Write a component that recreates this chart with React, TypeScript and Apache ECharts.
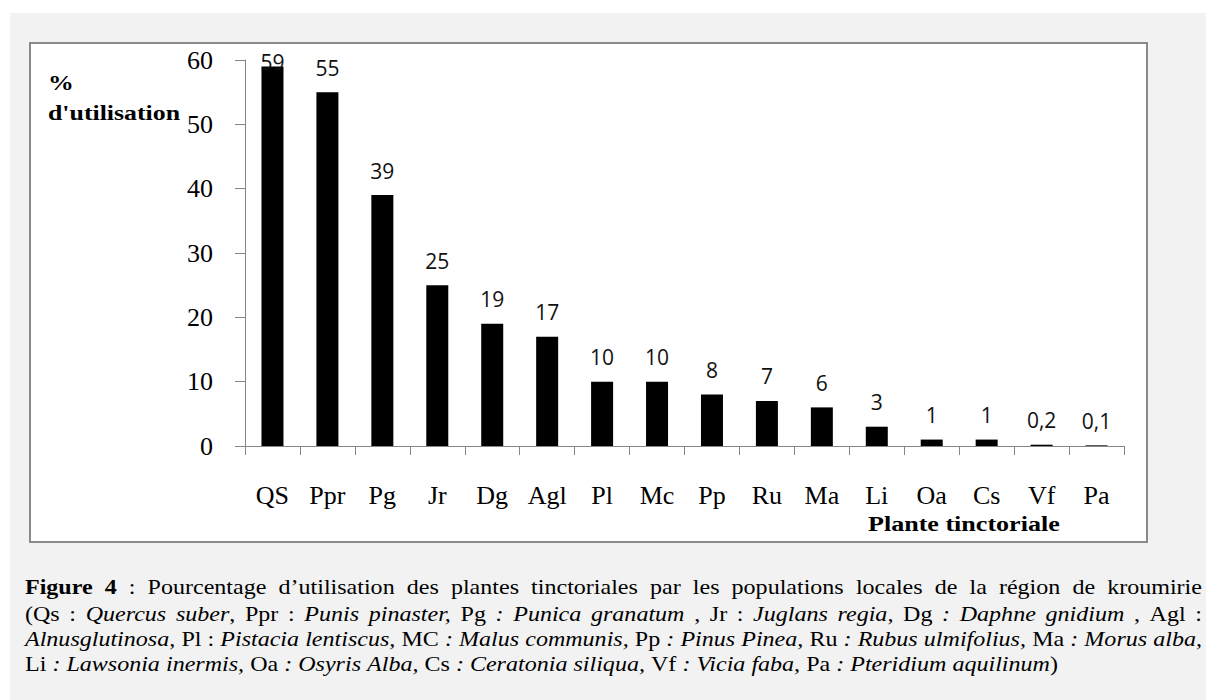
import React, { useEffect, useRef } from 'react';
import * as echarts from 'echarts';

const categories = ['QS', 'Ppr', 'Pg', 'Jr', 'Dg', 'Agl', 'Pl', 'Mc', 'Pp', 'Ru', 'Ma', 'Li', 'Oa', 'Cs', 'Vf', 'Pa'];
const values = [59, 55, 39, 25, 19, 17, 10, 10, 8, 7, 6, 3, 1, 1, 0.2, 0.1];
const yMin = 0;
const yMax = 60;
const yInterval = 10;
const yTitleLines = ['%', "d'utilisation"];
const xTitle = 'Plante tinctoriale';

// caption tokens: [text, style(n|b|i), joinToPrevious]
type Tok = [string, string, number?];
const captionLine1: Tok[] = [
  ['Figure', 'b'], ['4', 'b'], [':', 'n'], ['Pourcentage', 'n'], ['d\u2019utilisation', 'n'], ['des', 'n'], ['plantes', 'n'],
  ['tinctoriales', 'n'], ['par', 'n'], ['les', 'n'], ['populations', 'n'], ['locales', 'n'], ['de', 'n'], ['la', 'n'],
  ['région', 'n'], ['de', 'n'], ['kroumirie', 'n'],
];
const captionLine2: Tok[] = [
  ['(Qs', 'n'], [':', 'n'], ['Quercus', 'i'], ['suber', 'i'], [',', 'n', 1], ['Ppr', 'n'], [':', 'n'], ['Punis', 'i'], ['pinaster,', 'i'],
  ['Pg', 'n'], [':', 'i'], ['Punica', 'i'], ['granatum', 'i'], [',', 'n'], ['Jr', 'n'], [':', 'n'], ['Juglans', 'i'], ['regia,', 'i'],
  ['Dg', 'n'], [':', 'i'], ['Daphne', 'i'], ['gnidium', 'i'], [',', 'n'], ['Agl', 'n'], [':', 'n'],
];
const captionLine3: Tok[] = [
  ['Alnusglutinosa,', 'i'], ['Pl', 'n'], [':', 'n'], ['Pistacia', 'i'], ['lentiscus,', 'i'], ['MC', 'n'], [':', 'i'], ['Malus', 'i'],
  ['communis,', 'i'], ['Pp', 'n'], [':', 'i'], ['Pinus', 'i'], ['Pinea,', 'i'], ['Ru', 'n'], [':', 'i'], ['Rubus', 'i'], ['ulmifolius,', 'i'],
  ['Ma', 'n'], [':', 'i'], ['Morus', 'i'], ['alba,', 'i'],
];
const captionLine4: Tok[] = [
  ['Li', 'n'], [':', 'i'], ['Lawsonia', 'i'], ['inermis,', 'i'], ['Oa', 'n'], [':', 'i'], ['Osyris', 'i'], ['Alba,', 'i'],
  ['Cs', 'n'], [':', 'i'], ['Ceratonia', 'i'], ['siliqua,', 'i'], ['Vf', 'n'], [':', 'i'], ['Vicia', 'i'], ['faba,', 'i'],
  ['Pa', 'n'], [':', 'i'], ['Pteridium', 'i'], ['aquilinum', 'i'], [')', 'n', 1],
];

const SERIF = 'Liberation Serif';
const SANS = 'Open Sans';

function textStyle(text: string, size: number, s: string, extra: any = {}) {
  const st: any = { text, fontSize: size, fontFamily: SERIF, fill: '#000', align: 'left', verticalAlign: 'middle', ...extra };
  if (s === 'b') st.fontWeight = 'bold';
  if (s === 'i') st.fontStyle = 'italic';
  return st;
}

export default function App() {
  const ref = useRef<HTMLDivElement>(null);
  useEffect(() => {
    document.body.style.margin = '0';
    if (!ref.current) return;
    const chart = echarts.init(ref.current, undefined, { renderer: 'svg' });

    const canvas = document.createElement('canvas');
    const ctx = canvas.getContext('2d')!;
    const measure = (t: string, s: string, size: number) => {
      ctx.font = `${s === 'i' ? 'italic ' : ''}${s === 'b' ? 'bold ' : ''}${size}px "${SERIF}"`;
      return ctx.measureText(t).width;
    };

    const capSize = 22;
    const capLeft = 25;
    const capRight = 1202;
    const line4End = 1058;
    const lines: { toks: Tok[]; justify: boolean; y: number }[] = [
      { toks: captionLine1, justify: true, y: 586 },
      { toks: captionLine2, justify: true, y: 613 },
      { toks: captionLine3, justify: true, y: 638 },
      { toks: captionLine4, justify: false, y: 663 },
    ];
    const groupWords = (toks: Tok[]) => {
      const words: { parts: Tok[]; w: number }[] = [];
      toks.forEach((t) => {
        const w = measure(t[0], t[1], capSize);
        if (t[2] && words.length) {
          const last = words[words.length - 1];
          last.parts.push(t);
          last.w += w;
        } else words.push({ parts: [t], w });
      });
      return words;
    };
    // horizontal stretch of the reference text, derived from the unjustified last line
    const w4 = groupWords(captionLine4);
    const space = measure(' ', 'n', capSize);
    const nat4 = w4.reduce((a, b) => a + b.w, 0) + space * (w4.length - 1);
    const sx = (line4End - capLeft) / nat4;

    const captionEls: any[] = [];
    lines.forEach((ln) => {
      const words = groupWords(ln.toks);
      const total = words.reduce((a, b) => a + b.w, 0) * sx;
      const gap = ln.justify ? (capRight - capLeft - total) / (words.length - 1) : space * sx;
      let x = capLeft;
      words.forEach((wd) => {
        let px = x;
        wd.parts.forEach((p) => {
          captionEls.push({ type: 'text', x: px, y: ln.y, scaleX: sx, style: textStyle(p[0], capSize, p[1]) });
          px += measure(p[0], p[1], capSize) * sx;
        });
        x += wd.w * sx + gap;
      });
    });

    const yTitleSize = 22;
    const yTitleSx = 132 / measure(yTitleLines[1], 'b', yTitleSize);
    const xTitleSize = 21;
    const xTitleSx = 192 / measure(xTitle, 'b', xTitleSize);

    const data = values.map((v, i) => (i === 0 ? { value: v, label: { distance: -6 } } : { value: v }));

    chart.setOption({
      animation: false,
      grid: { left: 245, right: 82, top: 60, bottom: 254, containLabel: false },
      xAxis: {
        type: 'category',
        data: categories,
        axisLine: { lineStyle: { color: '#868686', width: 1 } },
        axisTick: { show: true, length: 9, lineStyle: { color: '#868686' } },
        axisLabel: { color: '#000', fontFamily: SERIF, fontSize: 26, margin: 36 },
      },
      yAxis: {
        type: 'value',
        min: yMin,
        max: yMax,
        interval: yInterval,
        splitLine: { show: false },
        axisLine: { show: true, lineStyle: { color: '#868686', width: 1 } },
        axisTick: { show: true, length: 10, lineStyle: { color: '#868686' } },
        axisLabel: { color: '#000', fontFamily: SERIF, fontSize: 26, margin: 32 },
      },
      series: [
        {
          type: 'bar',
          data,
          barWidth: 22,
          itemStyle: { color: '#000' },
          label: {
            show: true,
            position: 'top',
            distance: 14,
            color: '#111',
            fontFamily: SANS,
            fontSize: 21,
            formatter: (p: any) => String(p.value).replace('.', ','),
          },
        },
      ],
      graphic: [
        { type: 'rect', z: -20, silent: true, shape: { x: 10, y: 13, width: 1196, height: 687 }, style: { fill: '#f2f2f2' } },
        {
          type: 'rect', z: -10, silent: true,
          shape: { x: 30, y: 43, width: 1117, height: 499 },
          style: { fill: '#ffffff', stroke: '#8a8a8a', lineWidth: 2 },
        },
        ...yTitleLines.map((t, i) => ({
          type: 'text', x: 48, y: i === 0 ? 83 : 113, scaleX: yTitleSx,
          style: textStyle(t, yTitleSize, 'b'),
        })),
        {
          type: 'text', x: 868, y: 524, scaleX: xTitleSx,
          style: textStyle(xTitle, xTitleSize, 'b'),
        },
        ...captionEls,
      ],
    });
    return () => chart.dispose();
  }, []);
  return <div ref={ref} style={{ width: 1206, height: 700 }} />;
}
